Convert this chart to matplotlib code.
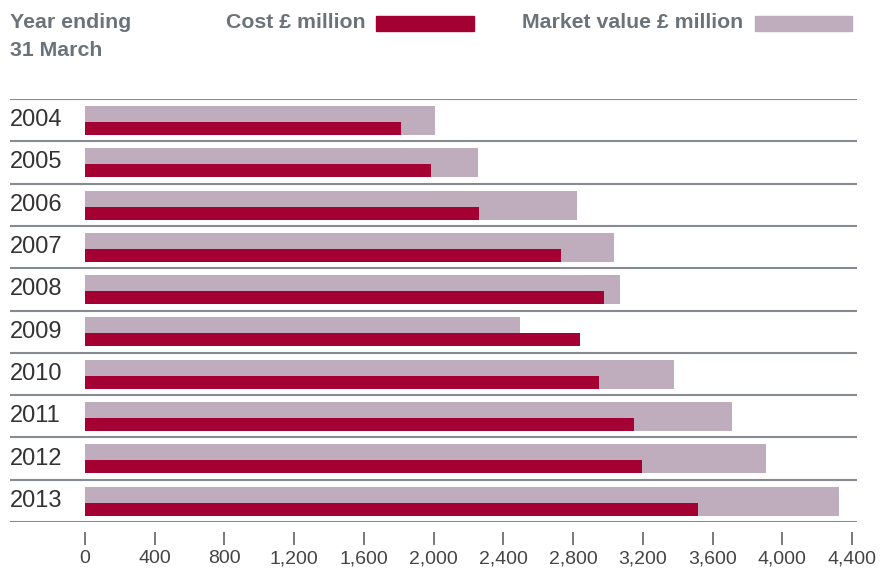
import numpy as np
import matplotlib.pyplot as plt
from matplotlib.patches import Rectangle

plt.rcParams['font.family'] = ['Liberation Sans', 'DejaVu Sans']

years = ['2004', '2005', '2006', '2007', '2008', '2009', '2010', '2011', '2012', '2013']
market_value = [2010, 2255, 2825, 3035, 3070, 2495, 3380, 3710, 3905, 4325]
cost = [1815, 1985, 2260, 2730, 2975, 2840, 2950, 3150, 3195, 3515]
xticks = [0, 400, 800, 1200, 1600, 2000, 2400, 2800, 3200, 3600, 4000, 4400]

cost_color = '#a50034'
market_color = '#bfadbd'
text_grey = '#6b737a'
line_grey = '#858b91'

W, H = 884, 572
px = 72 / 100  # points per pixel at dpi 100
fig = plt.figure(figsize=(W / 100, H / 100), dpi=100)

# axes spans the separator lines; 0 sits at x=85px and 4,400 at x=852px
left_px, right_px, top_px, bottom_px = 10, 857, 99, 522
ax = fig.add_axes([left_px / W, 1 - bottom_px / H,
                   (right_px - left_px) / W, (bottom_px - top_px) / H])
scale = (852 - 85) / 4400
ax.set_xlim(-(85 - left_px) / scale, 4400 + (right_px - 852) / scale)
ax.set_ylim(len(years) - 0.5, -0.5)

y = np.arange(len(years))
ax.barh(y + 0.008, market_value, height=0.686, color=market_color, zorder=2)
ax.barh(y + 0.197, cost, height=0.307, color=cost_color, zorder=3)

for b in np.arange(len(years) + 1) - 0.5:
    ax.axhline(b, color=line_grey, lw=1.5, zorder=4)

for i, yr in enumerate(years):
    ax.text(0.0, i, yr, transform=ax.get_yaxis_transform(), ha='left',
            va='center', fontsize=17, color='#333333')

for s in ['left', 'right', 'top']:
    ax.spines[s].set_visible(False)
ax.spines['bottom'].set_position(('outward', 10 * px))
ax.spines['bottom'].set_visible(False)
ax.set_yticks([])
ax.set_xticks(xticks)
ax.set_xticklabels([f'{v:,}' for v in xticks])
ax.tick_params(axis='x', direction='out', length=13 * px, width=1.1, color='#555555',
               pad=5 * px, labelsize=14, labelcolor='#444444')

# header: axis caption and legend
fig.text(10 / W, 1 - 22 / H, 'Year ending', fontsize=15.3, fontweight='bold',
         color=text_grey, va='center', ha='left')
fig.text(10 / W, 1 - 50 / H, '31 March', fontsize=15.3, fontweight='bold',
         color=text_grey, va='center', ha='left')
fig.text(366 / W, 1 - 22 / H, 'Cost £ million', fontsize=15.3, fontweight='bold',
         color=text_grey, va='center', ha='right')
fig.add_artist(Rectangle((376 / W, 1 - 31 / H), 98 / W, 15 / H,
                         transform=fig.transFigure, color=cost_color))
fig.text(743 / W, 1 - 22 / H, 'Market value £ million', fontsize=15.3, fontweight='bold',
         color=text_grey, va='center', ha='right')
fig.add_artist(Rectangle((755 / W, 1 - 31 / H), 97 / W, 15 / H,
                         transform=fig.transFigure, color=market_color))

fig.savefig('out.png', dpi=100)
